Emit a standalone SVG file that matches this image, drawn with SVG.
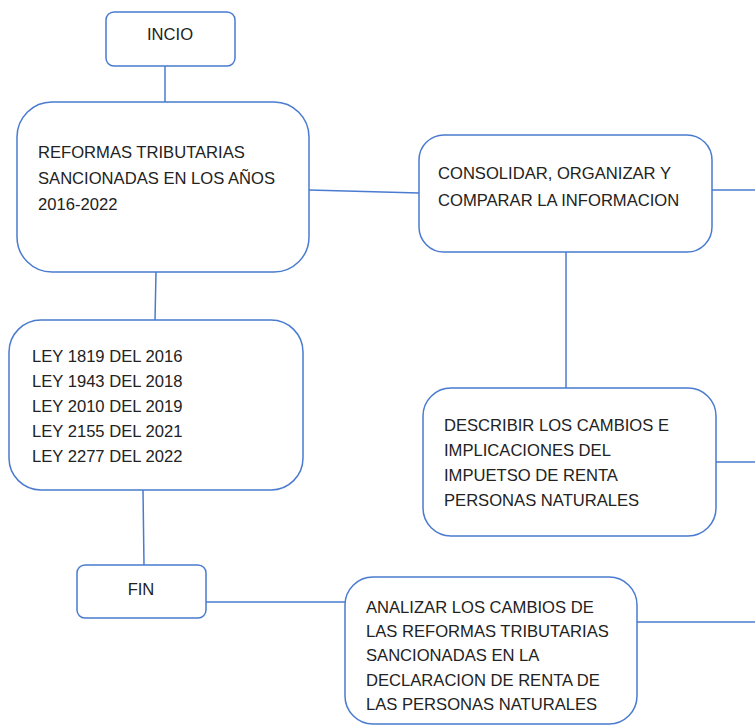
<svg xmlns="http://www.w3.org/2000/svg" width="755" height="727" viewBox="0 0 755 727">
<style>
.box{fill:#fff;stroke:#4a7bd0;stroke-width:1.5}
.ln{stroke:#4a7bd0;stroke-width:1.5;fill:none}
text{font-family:"Liberation Sans",Arial,sans-serif;font-size:16.6px;fill:#222}
.c{text-anchor:middle}
</style>
<rect width="755" height="727" fill="#fff"/>
<g id="connectors">
<line class="ln" x1="165" y1="66" x2="165" y2="102"/>
<line class="ln" x1="309" y1="190" x2="419" y2="193"/>
<line class="ln" x1="712" y1="190" x2="755" y2="190"/>
<line class="ln" x1="566" y1="252" x2="566" y2="388"/>
<line class="ln" x1="716" y1="462" x2="755" y2="462"/>
<line class="ln" x1="156" y1="272" x2="155" y2="320"/>
<line class="ln" x1="143" y1="490" x2="144" y2="565"/>
<line class="ln" x1="205" y1="602" x2="345" y2="602"/>
<line class="ln" x1="637" y1="622" x2="755" y2="622"/>
</g>
<g id="incio">
<rect class="box" x="106" y="12" width="129" height="54" rx="8"/>
<text class="c" x="170" y="40">INCIO</text>
</g>
<g id="reformas">
<rect class="box" x="17" y="102" width="292" height="170" rx="35"/>
<text x="38" y="158">REFORMAS TRIBUTARIAS</text>
<text x="38" y="184">SANCIONADAS EN LOS AÑOS</text>
<text x="38" y="210">2016-2022</text>
</g>
<g id="consolidar">
<rect class="box" x="419" y="135" width="293" height="117" rx="25"/>
<text x="438" y="179">CONSOLIDAR, ORGANIZAR Y</text>
<text x="438" y="206">COMPARAR LA INFORMACION</text>
</g>
<g id="leyes">
<rect class="box" x="9" y="320" width="294" height="170" rx="32"/>
<text x="32" y="362">LEY 1819 DEL 2016</text>
<text x="32" y="387">LEY 1943 DEL 2018</text>
<text x="32" y="412">LEY 2010 DEL 2019</text>
<text x="32" y="437">LEY 2155 DEL 2021</text>
<text x="32" y="462">LEY 2277 DEL 2022</text>
</g>
<g id="describir">
<rect class="box" x="423" y="388" width="293" height="148" rx="28"/>
<text x="444" y="431">DESCRIBIR LOS CAMBIOS E</text>
<text x="444" y="456">IMPLICACIONES DEL</text>
<text x="444" y="481">IMPUETSO DE RENTA</text>
<text x="444" y="506">PERSONAS NATURALES</text>
</g>
<g id="fin">
<rect class="box" x="77" y="565" width="129" height="53" rx="8"/>
<text class="c" x="141" y="595">FIN</text>
</g>
<g id="analizar">
<rect class="box" x="345" y="577" width="292" height="147" rx="28"/>
<text x="366" y="613">ANALIZAR LOS CAMBIOS DE</text>
<text x="366" y="637">LAS REFORMAS TRIBUTARIAS</text>
<text x="366" y="661">SANCIONADAS EN LA</text>
<text x="366" y="686">DECLARACION DE RENTA DE</text>
<text x="366" y="710">LAS PERSONAS NATURALES</text>
</g>
</svg>
